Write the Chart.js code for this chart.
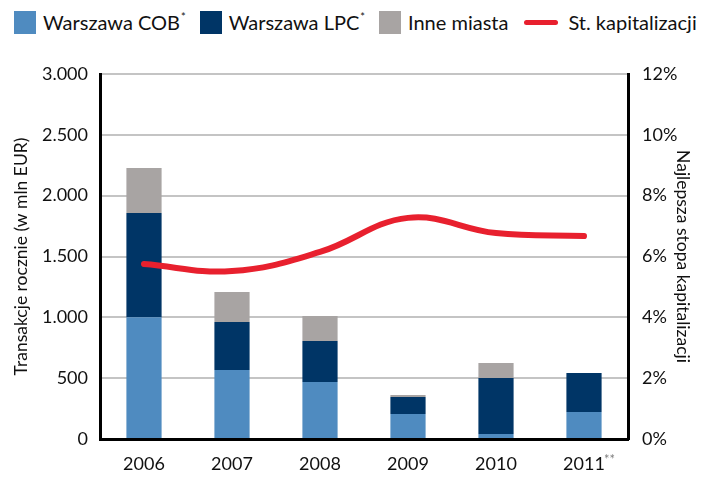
<!DOCTYPE html>
<html>
<head>
<meta charset="utf-8">
<script src="https://cdn.jsdelivr.net/npm/chart.js@4"></script>
<style>
  body { margin: 0; background: #fff; }
  #wrap { position: relative; width: 702px; height: 482px; font-family: Lato, "Open Sans", sans-serif; }
  #legend { position: absolute; top: 10px; left: 14px; display: flex; align-items: center; font-size: 20px; color: #111; white-space: nowrap; }
  #legend .item { display: flex; align-items: center; margin-right: 14px; }
  #legend .box { width: 22px; height: 23px; margin-right: 7px; }
  #legend .ln { width: 34px; height: 5px; border-radius: 3px; margin-right: 10px; margin-left: 2px; }
  #legend sup { font-size: 11px; vertical-align: 9px; margin-left: 1px; }
  canvas { position: absolute; top: 0; left: 0; }
</style>
</head>
<body>
<div id="wrap">
  <div id="legend"></div>
  <canvas id="chart" width="702" height="482"></canvas>
</div>
<script>
// values
const years = ['2006', '2007', '2008', '2009', '2010', '2011'];
const warszawaCob = [1000, 567, 468, 205, 41, 222];
const warszawaLpc = [857, 395, 337, 140, 460, 320];
const inneMiasta = [370, 246, 206, 17, 124, 0];
const capRate = [5.75, 5.52, 6.15, 7.27, 6.77, 6.67];

const colors = { cob: '#4f8bc0', lpc: '#003566', inne: '#a8a4a3', line: '#e8202e' };

// html legend so the asterisks can be superscript
const legendItems = [
  { label: 'Warszawa COB', sup: '*', color: colors.cob },
  { label: 'Warszawa LPC', sup: '*', color: colors.lpc },
  { label: 'Inne miasta', sup: '', color: colors.inne },
  { label: 'St. kapitalizacji', sup: '', color: colors.line, line: true }
];
const legendEl = document.getElementById('legend');
legendItems.forEach(it => {
  const d = document.createElement('div');
  d.className = 'item';
  d.innerHTML = `<span class="${it.line ? 'ln' : 'box'}" style="background:${it.color}"></span>` +
    `<span>${it.label}${it.sup ? '<sup>' + it.sup + '</sup>' : ''}</span>`;
  legendEl.appendChild(d);
});

const fmt = v => v.toLocaleString('de-DE');
const tickFont = { family: 'Lato', size: 18 };
const titleFont = { family: 'Lato', size: 17.5 };

// small "**" after the last year label
const footnoteMark = {
  id: 'footnoteMark',
  afterDraw(chart) {
    const x = chart.scales.x;
    const ctx = chart.ctx;
    const px = x.getPixelForTick(years.length - 1);
    ctx.save();
    ctx.font = '13px Lato';
    ctx.fillStyle = '#808080';
    ctx.textBaseline = 'top';
    ctx.fillText('**', px + 20, 453);
    ctx.restore();
  }
};

new Chart(document.getElementById('chart'), {
  type: 'bar',
  data: {
    labels: years,
    datasets: [
      { type: 'line', label: 'St. kapitalizacji', data: capRate, yAxisID: 'y1', borderColor: colors.line,
        borderWidth: 6, borderCapStyle: 'round', tension: 0.4, pointRadius: 0, order: 0 },
      { label: 'Warszawa COB', data: warszawaCob, backgroundColor: colors.cob, order: 1 },
      { label: 'Warszawa LPC', data: warszawaLpc, backgroundColor: colors.lpc, order: 1 },
      { label: 'Inne miasta', data: inneMiasta, backgroundColor: colors.inne, order: 1 }
    ]
  },
  options: {
    responsive: false,
    animation: false,
    layout: { padding: { left: 10, right: 8, top: 74, bottom: 6 } },
    datasets: { bar: { categoryPercentage: 0.8, barPercentage: 0.5 } },
    plugins: { legend: { display: false }, tooltip: { enabled: false } },
    scales: {
      x: {
        stacked: true,
        grid: { display: false, drawTicks: false },
        border: { color: '#000', width: 3 },
        ticks: { color: '#111', font: tickFont, padding: 14 },
        afterFit: s => { s.height = 37; }
      },
      y: {
        stacked: true, min: 0, max: 3000,
        ticks: { stepSize: 500, color: '#111', font: tickFont, padding: 12, callback: v => fmt(v) },
        grid: { color: '#c4c4c4', lineWidth: 2, drawTicks: false },
        border: { color: '#000', width: 3 },
        title: { display: true, text: 'Transakcje rocznie (w mln EUR)', color: '#111', font: titleFont, padding: 1 },
        afterFit: s => { s.width = 90; }
      },
      y1: {
        position: 'right', min: 0, max: 12,
        ticks: { stepSize: 2, color: '#111', font: tickFont, padding: 14, callback: v => v + '%' },
        grid: { display: false, drawTicks: false },
        border: { color: '#000', width: 3 },
        title: { display: true, text: 'Najlepsza stopa kapitalizacji', color: '#111', font: titleFont, padding: 1 },
        afterFit: s => { s.width = 66; }
      }
    }
  },
  plugins: [footnoteMark]
});
</script>
</body>
</html>
